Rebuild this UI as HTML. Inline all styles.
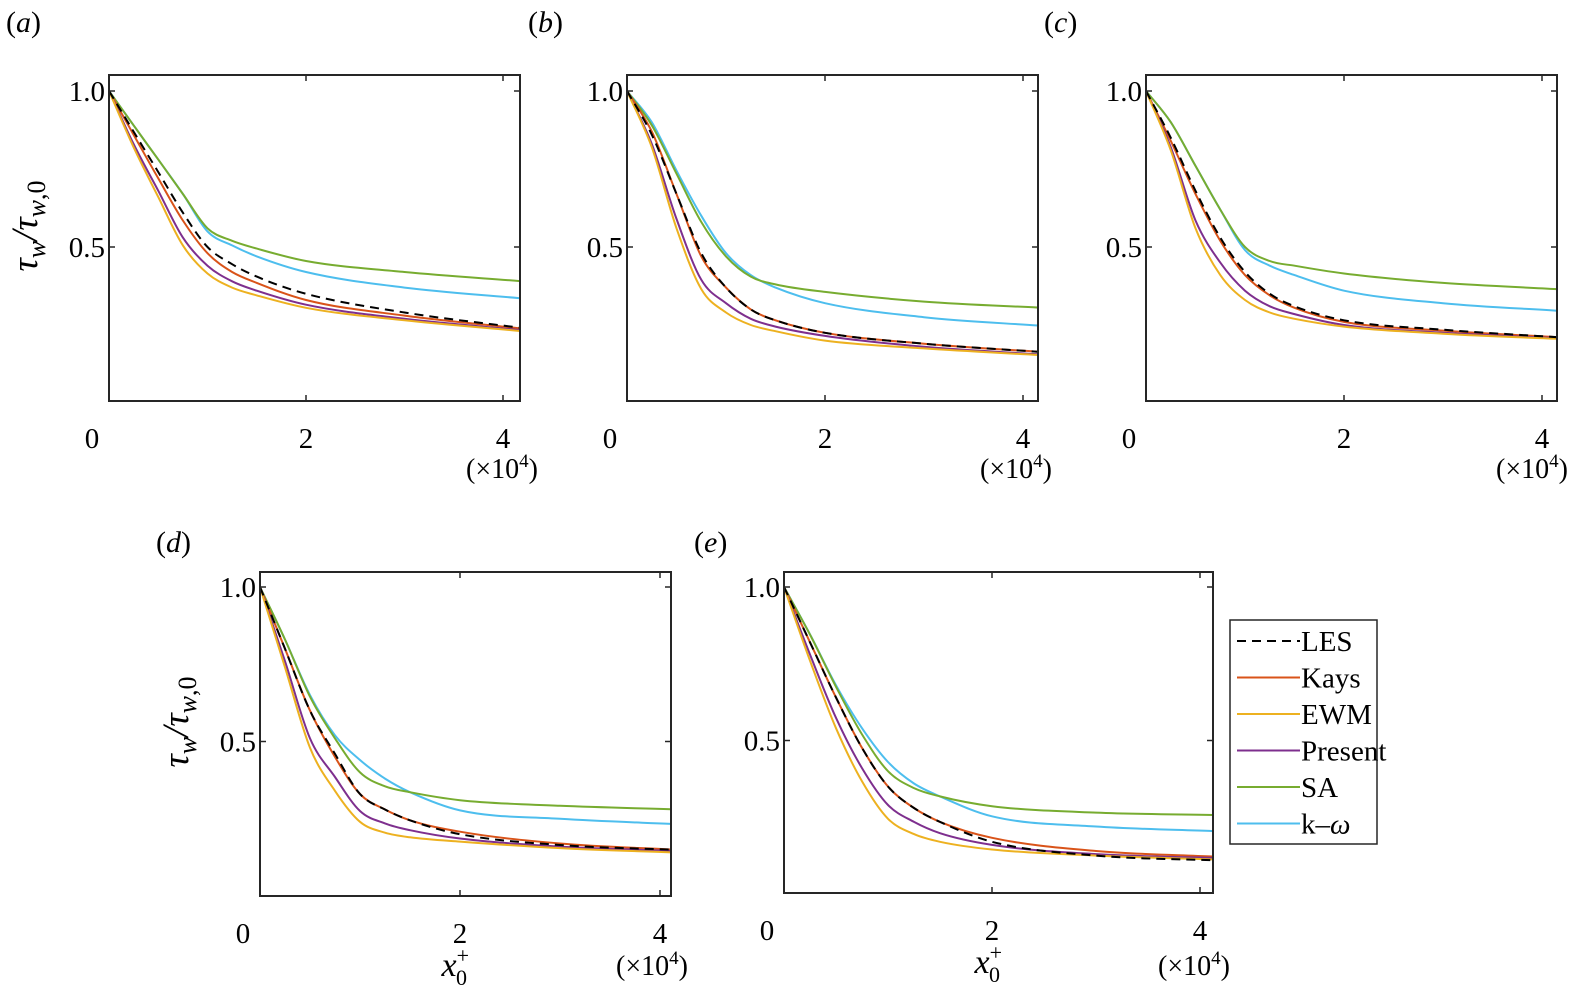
<!DOCTYPE html>
<html><head><meta charset="utf-8"><style>
html,body{margin:0;padding:0;background:#fff;}
svg{display:block;font-family:"Liberation Serif",serif;}
</style></head><body>
<svg id="fig" width="1576" height="1003" viewBox="0 0 1576 1003" xmlns="http://www.w3.org/2000/svg"></svg>
<script>
const xGrid=[0,0.25,0.5,0.75,1,1.25,1.5,2,3,4.2];
const seriesNames=["LES","Kays","EWM","Present","SA","k–ω"];
const aLES=[1,0.87,0.74,0.61,0.50,0.445,0.405,0.35,0.29,0.24];
const aKays=[1,0.86,0.72,0.585,0.48,0.42,0.385,0.33,0.28,0.238];
const aEWM=[1,0.82,0.66,0.505,0.415,0.37,0.345,0.305,0.265,0.23];
const aPresent=[1,0.83,0.68,0.53,0.44,0.39,0.36,0.315,0.27,0.233];
const aSA=[1,0.89,0.78,0.67,0.56,0.52,0.495,0.455,0.42,0.39];
const aKW=[1,0.89,0.78,0.67,0.55,0.505,0.47,0.42,0.37,0.335];
const bLES=[1,0.86,0.67,0.48,0.37,0.30,0.265,0.225,0.19,0.163];
const bKays=[1,0.87,0.67,0.47,0.37,0.30,0.265,0.225,0.19,0.163];
const bEWM=[1,0.82,0.56,0.365,0.29,0.25,0.23,0.20,0.175,0.153];
const bPresent=[1,0.83,0.59,0.395,0.32,0.27,0.245,0.215,0.18,0.155];
const bSA=[1,0.89,0.735,0.58,0.47,0.405,0.38,0.356,0.325,0.305];
const bKW=[1,0.90,0.745,0.60,0.48,0.41,0.37,0.32,0.275,0.247];
const cLES=[1,0.85,0.68,0.53,0.42,0.35,0.31,0.265,0.235,0.21];
const cKays=[1,0.84,0.67,0.52,0.41,0.345,0.305,0.26,0.232,0.21];
const cEWM=[1,0.81,0.56,0.41,0.33,0.29,0.27,0.245,0.222,0.205];
const cPresent=[1,0.82,0.585,0.45,0.36,0.31,0.285,0.25,0.225,0.207];
const cSA=[1,0.90,0.76,0.62,0.50,0.455,0.44,0.415,0.385,0.364];
const cKW=[1,0.90,0.76,0.62,0.49,0.44,0.41,0.36,0.32,0.295];
const dLES=[1,0.80,0.60,0.46,0.33,0.28,0.245,0.20,0.165,0.149];
const dKays=[1,0.80,0.60,0.45,0.33,0.28,0.245,0.208,0.17,0.149];
const dEWM=[1,0.74,0.48,0.34,0.24,0.205,0.19,0.176,0.155,0.14];
const dPresent=[1,0.76,0.51,0.385,0.275,0.235,0.213,0.186,0.16,0.145];
const dSA=[1,0.83,0.645,0.51,0.40,0.355,0.336,0.31,0.292,0.28];
const dKW=[1,0.83,0.65,0.52,0.44,0.38,0.336,0.277,0.25,0.232];
const eLES=[1,0.82,0.64,0.476,0.35,0.28,0.235,0.17,0.125,0.109];
const eKays=[1,0.82,0.64,0.476,0.35,0.28,0.235,0.183,0.14,0.121];
const eEWM=[1,0.76,0.54,0.367,0.245,0.195,0.17,0.145,0.125,0.112];
const ePresent=[1,0.78,0.574,0.41,0.29,0.235,0.198,0.16,0.13,0.117];
const eSA=[1,0.845,0.675,0.52,0.40,0.345,0.318,0.286,0.265,0.257];
const eKW=[1,0.846,0.68,0.54,0.43,0.36,0.318,0.253,0.22,0.204];
const xTickVals=[0,2,4];
const xTickLabels=["0","2","4"];
const yTickVals=[0.5,1.0];
const yTickLabels=["0.5","1.0"];

const colors=["#000000","#D95319","#EDB120","#7E2F8E","#77AC30","#4DBEEE"];
const panels=[
 {id:"a",data:[aLES,aKays,aEWM,aPresent,aSA,aKW],L:109,R:520,T:75,B:401,x0:109,xs:98.5,y0:403,ys:312,lab:[6,32],ylab:true,xlab:false,mult:[538,478]},
 {id:"b",data:[bLES,bKays,bEWM,bPresent,bSA,bKW],L:627,R:1038,T:75,B:401,x0:627,xs:99,y0:403,ys:312,lab:[528,32],ylab:false,xlab:false,mult:[1052,478]},
 {id:"c",data:[cLES,cKays,cEWM,cPresent,cSA,cKW],L:1146,R:1557,T:75,B:401,x0:1146,xs:99,y0:403,ys:312,lab:[1044,32],ylab:false,xlab:false,mult:[1568,478]},
 {id:"d",data:[dLES,dKays,dEWM,dPresent,dSA,dKW],L:260,R:671,T:572,B:896,x0:260,xs:100,y0:896,ys:309,lab:[156,552],ylab:true,xlab:true,mult:[688,975]},
 {id:"e",data:[eLES,eKays,eEWM,ePresent,eSA,eKW],L:784,R:1213,T:572,B:893,x0:784,xs:104,y0:894,ys:307,lab:[694,552],ylab:false,xlab:true,mult:[1230,975]}
];
const NS="http://www.w3.org/2000/svg";
const svg=document.getElementById("fig");
function mk(tag,attrs,parent){const e=document.createElementNS(NS,tag);for(const k in attrs)e.setAttribute(k,attrs[k]);(parent||svg).appendChild(e);return e;}
function pathFrom(pts){
 const n=pts.length, d=[], m=[];
 for(let i=0;i<n-1;i++)d.push((pts[i+1][1]-pts[i][1])/(pts[i+1][0]-pts[i][0]));
 m[0]=d[0];m[n-1]=d[n-2];
 for(let i=1;i<n-1;i++){m[i]=(d[i-1]*d[i]<=0)?0:(d[i-1]+d[i])/2;}
 for(let i=0;i<n-1;i++){
  if(d[i]===0){m[i]=0;m[i+1]=0;continue;}
  const a=m[i]/d[i],b=m[i+1]/d[i],s=a*a+b*b;
  if(s>9){const t=3/Math.sqrt(s);m[i]=t*a*d[i];m[i+1]=t*b*d[i];}
 }
 let p="M"+pts[0][0].toFixed(1)+","+pts[0][1].toFixed(1);
 for(let i=0;i<n-1;i++){
  const h=(pts[i+1][0]-pts[i][0])/3;
  p+=" C"+(pts[i][0]+h).toFixed(1)+","+(pts[i][1]+m[i]*h).toFixed(1)+" "+(pts[i+1][0]-h).toFixed(1)+","+(pts[i+1][1]-m[i+1]*h).toFixed(1)+" "+pts[i+1][0].toFixed(1)+","+pts[i+1][1].toFixed(1);
 }
 return p;
}
panels.forEach(p=>{
 const g=mk("g",{});
 
 
 const sx=v=>p.x0+v*p.xs, sy=v=>p.y0-v*p.ys;
 const cp=mk("clipPath",{id:"clip"+p.id},g);
 mk("rect",{x:p.L,y:p.T,width:p.R-p.L,height:p.B-p.T},cp);
 const lg=mk("g",{"clip-path":"url(#clip"+p.id+")"},g);
 [5,4,1,3,2,0].forEach(si=>{
  const pts=xGrid.map((x,i)=>[sx(x),sy(p.data[si][i])]);
  const path=mk("path",{d:pathFrom(pts),fill:"none",stroke:colors[si],"stroke-width":2});
  if(si===0)path.setAttribute("stroke-dasharray","9,6");
  
  
  lg.appendChild(path);
 });
 const frame=mk("rect",{x:p.L,y:p.T,width:p.R-p.L,height:p.B-p.T,fill:"none",stroke:"#262626","stroke-width":2},g);
 
 
 xTickVals.forEach((v,i)=>{
  const x=sx(v);
  if(v>0){mk("line",{x1:x,x2:x,y1:p.B,y2:p.B-6,stroke:"#262626","stroke-width":1.5},g);mk("line",{x1:x,x2:x,y1:p.T,y2:p.T+6,stroke:"#262626","stroke-width":1.5},g);}
  const t=mk("text",{x:(v===0?x-17:x),y:p.B+47,"font-size":29,"text-anchor":"middle",fill:"#000"},g);
  t.textContent=xTickLabels[i];
  
  
 });
 yTickVals.forEach((v,i)=>{
  const y=sy(v);
  mk("line",{x1:p.L,x2:p.L+6,y1:y,y2:y,stroke:"#262626","stroke-width":1.5},g);
  mk("line",{x1:p.R,x2:p.R-6,y1:y,y2:y,stroke:"#262626","stroke-width":1.5},g);
  const t=mk("text",{x:p.L-4,y:y+10,"font-size":29,"text-anchor":"end",fill:"#000"},g);
  t.textContent=yTickLabels[i];
  
  
 });
 const pl=mk("text",{x:p.lab[0],y:p.lab[1],"font-size":30,fill:"#000"},g);
 pl.innerHTML='(<tspan font-style="italic">'+p.id+'</tspan>)';
 
 
 const m=mk("text",{x:p.mult[0],y:p.mult[1],"font-size":28,"text-anchor":"end",fill:"#000"},g);
 m.innerHTML='(×10<tspan dy="-11" font-size="19">4</tspan><tspan dy="11">)</tspan>';
 
 
 if(p.ylab){
  const cy=(p.T+p.B)/2-12;
  const yl=mk("text",{x:0,y:0,"font-size":37,"font-style":"italic","text-anchor":"middle",fill:"#000",transform:"translate("+(p.L-72)+","+cy+") rotate(-90)"},g);
  yl.innerHTML='τ<tspan dy="8" font-size="26">w</tspan><tspan dy="-8">/τ</tspan><tspan dy="8" font-size="26">w<tspan font-style="normal">,0</tspan></tspan>';
  
  
 }
 if(p.xlab){
  const xl=mk("text",{x:(p.L+p.R)/2-24,y:p.B+80,"font-size":34,"font-style":"italic",fill:"#000"},g);
  xl.innerHTML='x<tspan dy="-13" font-size="22" font-style="normal">+</tspan><tspan dx="-13" dy="22" font-size="22" font-style="normal">0</tspan>';
  
  
 }
});
// legend
const leg=mk("g",{});


mk("rect",{x:1230,y:620,width:147,height:224,fill:"#fff",stroke:"#262626","stroke-width":1.5},leg);
seriesNames.forEach((n,i)=>{
 const y=641+i*36.5;
 const ln=mk("line",{x1:1237,x2:1300,y1:y,y2:y,stroke:colors[i],"stroke-width":2},leg);
 if(i===0)ln.setAttribute("stroke-dasharray","9,6");
 
 
 const t=mk("text",{x:1301,y:y+10,"font-size":29,fill:"#000"},leg);
 if(i===5)t.innerHTML='k–<tspan font-style="italic">ω</tspan>';else t.textContent=n;
 
 
});
</script>
</body></html>
